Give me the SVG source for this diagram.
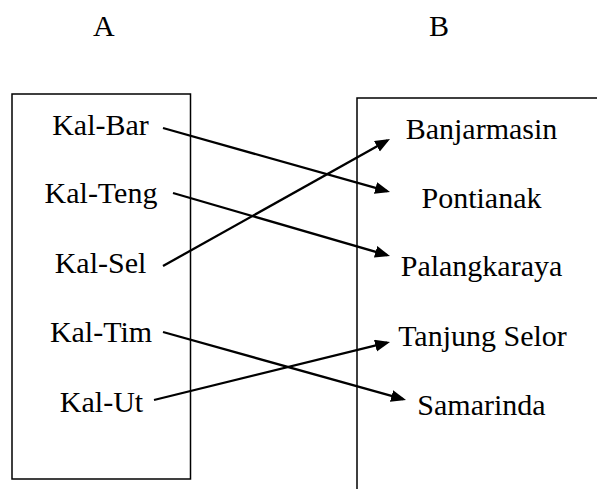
<svg xmlns="http://www.w3.org/2000/svg" width="597" height="489" viewBox="0 0 597 489">
<style>
text{font-family:"Liberation Serif","Times New Roman",serif;font-size:30px;fill:#000}
.c{text-anchor:middle}
.box{fill:none;stroke:#000;stroke-width:1.5}
.arr{fill:none;stroke:#000;stroke-width:2.3;marker-end:url(#ah)}
</style>
<defs>
<marker id="ah" markerUnits="userSpaceOnUse" markerWidth="16" markerHeight="13" refX="12" refY="6" orient="auto">
<path d="M0,0 L15,6 L0,12 z" fill="#000"/>
</marker>
</defs>
<rect width="597" height="489" fill="#fff"/>
<g id="header-A"><text x="93" y="36">A</text></g>
<g id="header-B"><text x="429" y="36">B</text></g>
<g id="set-A">
<rect class="box" x="12" y="94" width="178.5" height="385"/>
</g>
<g id="set-B">
<path class="box" d="M357,489 V98 H597"/>
</g>
<g id="kal-bar"><text class="c" x="100.5" y="135">Kal-Bar</text></g>
<g id="kal-teng"><text class="c" x="101" y="203">Kal-Teng</text></g>
<g id="kal-sel"><text class="c" x="100.5" y="273">Kal-Sel</text></g>
<g id="kal-tim"><text class="c" x="101" y="342">Kal-Tim</text></g>
<g id="kal-ut"><text class="c" x="101.5" y="412">Kal-Ut</text></g>
<g id="banjarmasin"><text class="c" x="481.5" y="139">Banjarmasin</text></g>
<g id="pontianak"><text class="c" x="481.5" y="208">Pontianak</text></g>
<g id="palangkaraya"><text class="c" x="481.5" y="276">Palangkaraya</text></g>
<g id="tanjung-selor"><text class="c" x="482.5" y="346">Tanjung Selor</text></g>
<g id="samarinda"><text class="c" x="481.5" y="415">Samarinda</text></g>
<g id="connectors">
<path class="arr" d="M163,128 L387.1,191.2"/>
<path class="arr" d="M173,193 L387.1,255.2"/>
<path class="arr" d="M163,266 L387.4,140.5"/>
<path class="arr" d="M163,332 L403.1,399.2"/>
<path class="arr" d="M154,400 L387.1,342.7"/>
</g>
</svg>
